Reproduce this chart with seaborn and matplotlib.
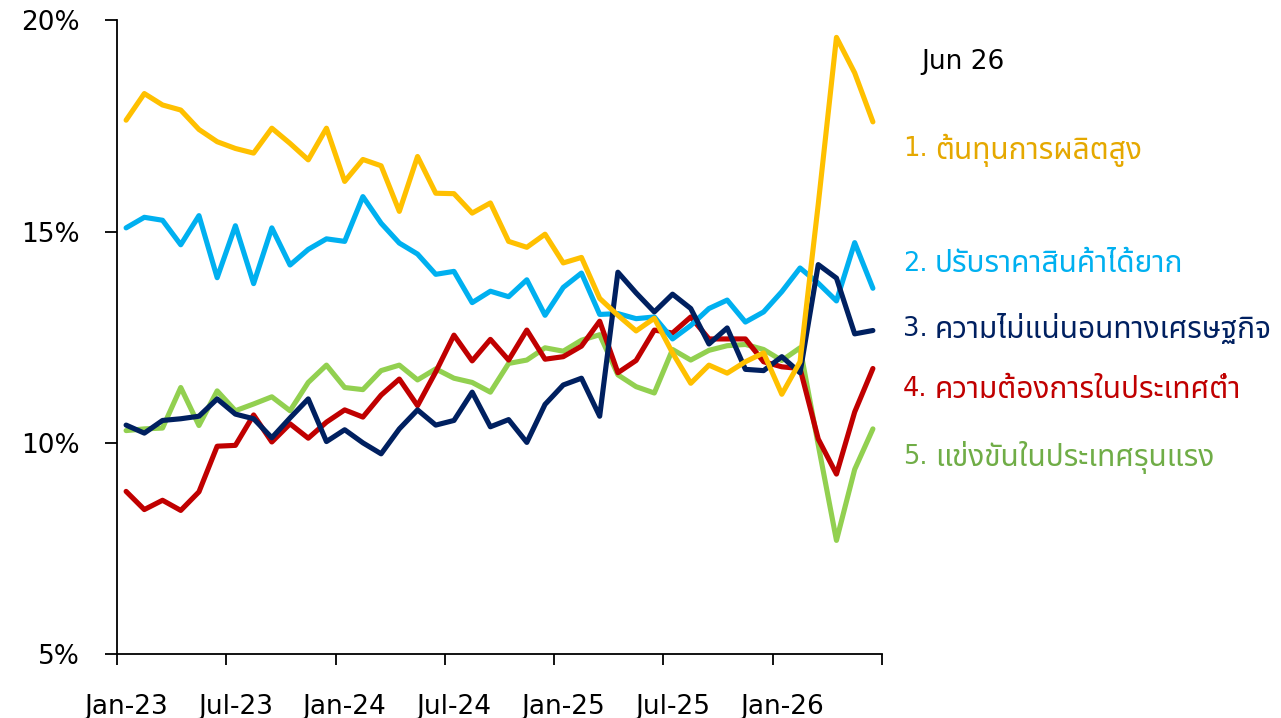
import numpy as np
import pandas as pd
import matplotlib
matplotlib.use("Agg")
import matplotlib.pyplot as plt
from matplotlib import font_manager
import seaborn as sns

# =========================
# DATA (share of firms, %)
# =========================

month_labels = ["Jan-23", "Jul-23", "Jan-24", "Jul-24", "Jan-25", "Jul-25", "Jan-26"]
n_months = 42  # Jan-23 .. Jun-26

cost = [17.64, 18.27, 18.00, 17.88, 17.42, 17.13, 16.97, 16.86, 17.45, 17.09,
        16.70, 17.45, 16.19, 16.71, 16.56, 15.48, 16.78, 15.91, 15.90, 15.44,
        15.68, 14.77, 14.63, 14.94, 14.26, 14.39, 13.42, 13.02, 12.65, 12.95,
        12.13, 11.41, 11.84, 11.65, 11.92, 12.13, 11.15, 11.92, 15.65, 19.60,
        18.76, 17.60]
pricing = [15.09, 15.34, 15.27, 14.69, 15.38, 13.91, 15.14, 13.77, 15.09, 14.21,
           14.58, 14.83, 14.77, 15.83, 15.20, 14.73, 14.47, 13.99, 14.06, 13.32,
           13.59, 13.46, 13.86, 13.02, 13.68, 14.02, 13.04, 13.06, 12.94, 12.98,
           12.46, 12.78, 13.18, 13.38, 12.86, 13.10, 13.58, 14.14, 13.78, 13.36,
           14.74, 13.66]
uncertainty = [10.42, 10.23, 10.53, 10.57, 10.63, 11.04, 10.68, 10.57, 10.12, 10.59,
               11.04, 10.03, 10.31, 10.00, 9.74, 10.33, 10.78, 10.42, 10.53, 11.20,
               10.38, 10.55, 10.01, 10.91, 11.37, 11.53, 10.63, 14.04, 13.55, 13.10,
               13.52, 13.18, 12.34, 12.72, 11.74, 11.71, 12.04, 11.66, 14.22, 13.90,
               12.58, 12.66]
demand = [8.85, 8.42, 8.64, 8.40, 8.84, 9.92, 9.94, 10.66, 10.02, 10.45,
          10.11, 10.49, 10.78, 10.61, 11.13, 11.51, 10.88, 11.68, 12.55, 11.94,
          12.45, 11.96, 12.67, 11.98, 12.04, 12.29, 12.88, 11.66, 11.95, 12.67,
          12.60, 12.98, 12.46, 12.46, 12.46, 11.92, 11.80, 11.76, 10.09, 9.26,
          10.73, 11.76]
competition = [10.29, 10.33, 10.35, 11.31, 10.41, 11.23, 10.76, 10.92, 11.09, 10.76,
               11.43, 11.84, 11.31, 11.26, 11.71, 11.84, 11.49, 11.75, 11.53, 11.43,
               11.20, 11.88, 11.96, 12.25, 12.17, 12.43, 12.56, 11.61, 11.33, 11.18,
               12.21, 11.96, 12.19, 12.30, 12.33, 12.21, 11.95, 12.25, 9.95, 7.69,
               9.37, 10.33]

series_numbers = ["1.", "2.", "3.", "4.", "5."]
series_names = ["ต้นทุนการผลิตสูง", "ปรับราคาสินค้าได้ยาก",
                "ความไม่แน่นอนทางเศรษฐกิจ", "ความต้องการในประเทศต่ำ",
                "แข่งขันในประเทศรุนแรง"]
line_colors = ["#FFC000", "#00B0F0", "#002060", "#C00000", "#92D050"]
text_colors = ["#E5A800", "#00B0F0", "#002060", "#C00000", "#70AD47"]

# =========================
# FONT WITH THAI GLYPHS
# =========================

def thai_families():
    found = []
    for f in font_manager.fontManager.ttflist:
        try:
            cmap = font_manager.get_font(f.fname).get_charmap()
        except Exception:
            continue
        if 0x0E15 in cmap and f.name not in found:
            found.append(f.name)
    preferidas = ["Noto Sans Thai", "Noto Sans Thai UI", "Noto Sans Thai Looped",
                  "Loma", "Garuda", "Tlwg Typo"]
    found.sort(key=lambda n: (preferidas.index(n) if n in preferidas else 99,
                              "serif" in n.lower() and "sans" not in n.lower(), n))
    return found

sns.set_style("white")
thai = thai_families()
plt.rcParams["font.family"] = ["DejaVu Sans"] + thai

# =========================
# LONG TABLE
# =========================

valores = [cost, pricing, uncertainty, demand, competition]
df = pd.concat(
    [pd.DataFrame({"mes": np.arange(n_months), "valor": v, "serie": nome})
     for nome, v in zip(series_names, valores)],
    ignore_index=True,
)

palette = dict(zip(series_names, line_colors))
# draw order: green at the bottom, yellow on top
ordem = [series_names[4], series_names[3], series_names[1], series_names[2], series_names[0]]

# =========================
# PLOT
# =========================

fig = plt.figure(figsize=(12.81, 7.18), dpi=100)
ax = fig.add_axes([117 / 1281, 1 - 654 / 718, (882 - 117) / 1281, (654 - 20.5) / 718])

sns.lineplot(data=df, x="mes", y="valor", hue="serie", hue_order=ordem,
             palette=palette, linewidth=3.7, legend=False, ax=ax,
             solid_capstyle="round", solid_joinstyle="round")

ax.set_xlim(-0.5, n_months - 0.5)
ax.set_ylim(5, 20)
ax.set_xlabel("")
ax.set_ylabel("")

ax.set_yticks([5, 10, 15, 20])
ax.set_yticklabels([f"{v}%" for v in [5, 10, 15, 20]], fontsize=19)

ax.set_xticks(np.arange(-0.5, n_months, 6))
ax.set_xticklabels([])
ax.set_xticks(np.arange(0, n_months - 5, 6), minor=True)
ax.set_xticklabels(month_labels, minor=True, fontsize=19)

for s in ["top", "right"]:
    ax.spines[s].set_visible(False)
for s in ["left", "bottom"]:
    ax.spines[s].set_color("black")
    ax.spines[s].set_linewidth(1.3)

ax.tick_params(axis="y", which="major", length=9, width=1.3, pad=18, direction="out",
               left=True, colors="black")
ax.tick_params(axis="x", which="major", length=8, width=1.3, direction="out",
               bottom=True, colors="black")
ax.tick_params(axis="x", which="minor", length=0, pad=29, colors="black")

# labels on the right
fig.text(921 / 1281, 1 - 62 / 718, "Jun 26", fontsize=19, color="black", va="center")
label_y = [149, 264, 329, 389, 457]
for num, nome, cor, yp in zip(series_numbers, series_names, text_colors, label_y):
    fig.text(903 / 1281, 1 - yp / 718, num, fontsize=18.5, color=cor, va="center")
    fig.text(935 / 1281, 1 - (yp + 1) / 718, nome, fontsize=21.5, color=cor,
             va="center", family=thai + ["DejaVu Sans"])

fig.savefig("out.png", dpi=100)
